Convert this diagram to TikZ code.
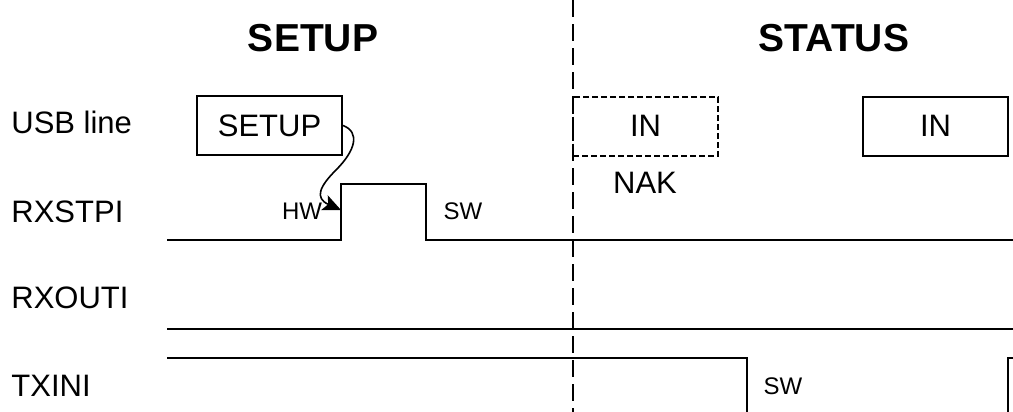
\documentclass[tikz,border=0pt]{standalone}
\usepackage{fontspec}
\setmainfont{Liberation Sans}
\usetikzlibrary{arrows.meta}

\begin{document}
\begin{tikzpicture}[
  x=0.5pt, y=-0.5pt,
  signal/.style={line width=1pt},
  title/.style={font=\fontsize{19.5}{22}\selectfont\bfseries, inner sep=0pt},
  rowlabel/.style={font=\fontsize{15.5}{18}\selectfont, inner sep=0pt, anchor=base west},
  pkt/.style={draw, line width=1pt, minimum width=72.5pt, minimum height=29.5pt,
    inner sep=0pt, font=\fontsize{15.5}{18}\selectfont},
  nakpkt/.style={pkt, dash pattern=on 3pt off 1.5pt},
  note/.style={font=\fontsize{12}{14}\selectfont, inner sep=0pt},
  phase/.style={line width=1pt, dash pattern=on 8.5pt off 3.5pt}
]
\useasboundingbox (0,0) rectangle (1013,412);

% titles
\node[title] (tsetup) at (313,38) {SETUP};
\node[title] (tstatus) at (834,38) {STATUS};

% row labels
\node[rowlabel] (usb) at (11,133) {USB line};
\node[rowlabel] (rxstpi) at (11,222) {RXSTPI};
\node[rowlabel] (rxouti) at (11,308) {RXOUTI};
\node[rowlabel] (txini) at (11,396) {TXINI};

% packets on the bus
\node[pkt] (setupbox) at (269.5,125.5) {SETUP};
\node[nakpkt] (inNak) at (645.5,126) {IN};
\node[pkt] (inAck) at (935.5,126) {IN};
\node[font=\fontsize{15.5}{18}\selectfont, inner sep=0pt] (nak) at (645,182.5) {NAK};

% signals
\draw[signal] (167,240) -- (341,240) -- (341,184) -- (426,184) -- (426,240) -- (1013,240);
\draw[signal] (167,329) -- (1013,329);
\draw[signal] (167,358) -- (747,358) -- (747,412);
\draw[signal] (1008,412) -- (1008,358) -- (1013,358);

\node[note] (hw) at (302,211.5) {HW};
\node[note] (sw1) at (463,211.5) {SW};
\node[note] (sw2) at (783,386) {SW};

% phase boundary
\coordinate (ptop) at (573,0);
\coordinate (pbot) at (573,412);
\draw[phase] (ptop) -- (pbot);

% hardware sets RXSTPI
\coordinate (hwtip) at (341,210);
\draw[line width=0.8pt, -{Stealth[length=9pt,width=8pt,inset=2pt]}]
  (setupbox.east) .. controls (360,132) and (356,150) .. (336,170)
  .. controls (320,186) and (314,198) .. (hwtip);
\end{tikzpicture}
\end{document}
